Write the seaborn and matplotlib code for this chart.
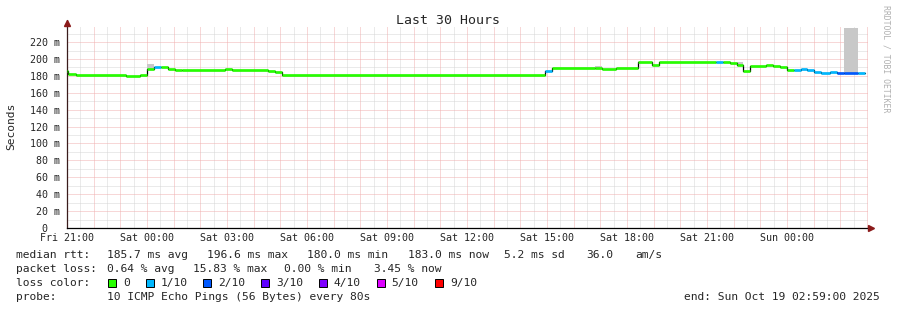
import numpy as np
import pandas as pd
import matplotlib
matplotlib.use("Agg")
import matplotlib.pyplot as plt
import matplotlib.transforms as mtransforms
from matplotlib.patches import Rectangle
import seaborn as sns

# ---------------- data ----------------
# segment boundaries in hours since Fri 21:00 (x axis start)
bounds_h = [0.0, 0.04, 0.34, 2.21, 2.74, 3.0, 3.26, 3.52, 3.79, 4.05, 4.31, 5.93,
            6.19, 7.54, 7.8, 8.06, 17.93, 18.19, 19.8, 20.06, 20.59, 21.41, 21.94,
            22.2, 24.34, 24.6, 24.86, 25.13, 25.35, 25.61, 26.21, 26.48, 26.74, 27.0,
            27.26, 27.53, 27.75, 28.01, 28.28, 28.61, 28.88, 29.14, 29.66, 29.93]
median_ms = [185.5, 182.0, 181.0, 180.0, 181.0, 188.5, 190.0, 190.0, 188.0, 186.5,
             187.0, 188.5, 187.0, 186.0, 184.5, 181.0, 185.5, 189.5, 189.5, 188.5,
             189.5, 196.6, 192.5, 196.0, 196.0, 196.0, 195.3, 193.0, 186.0, 192.0,
             193.0, 192.0, 190.0, 187.5, 187.5, 188.0, 187.5, 184.0, 183.0, 184.0,
             183.0, 183.0, 183.0]
loss_idx = [0, 0, 0, 0, 0, 0, 1, 0, 0, 0, 0, 0, 0, 0, 0, 0, 1, 0, 0, 0, 0, 0, 0,
            0, 1, 0, 0, 0, 0, 0, 0, 0, 0, 0, 1, 1, 1, 1, 1, 1, 2, 2, 1]
smoke_top_ms = [185.5, 182.0, 181.0, 180.0, 181.0, 194.0, 190.0, 190.0, 188.0, 186.5,
                187.0, 188.5, 187.0, 186.0, 184.5, 181.0, 185.5, 189.5, 191.7, 188.5,
                189.5, 196.6, 192.5, 196.0, 196.0, 196.0, 195.3, 196.0, 186.0, 192.0,
                193.0, 192.0, 190.0, 187.5, 187.5, 188.0, 187.5, 184.0, 183.0, 184.0,
                183.0, 236.5, 183.0]

loss_labels = ["0", "1/10", "2/10", "3/10", "4/10", "5/10", "9/10"]
loss_colors = ["#26ff00", "#00b8ff", "#0059ff", "#5e00ff", "#7e00ff", "#dd00ff", "#ff0000"]

x_tick_hours = [0, 3, 6, 9, 12, 15, 18, 21, 24, 27]
x_tick_labels = ["Fri 21:00", "Sat 00:00", "Sat 03:00", "Sat 06:00", "Sat 09:00",
                 "Sat 12:00", "Sat 15:00", "Sat 18:00", "Sat 21:00", "Sun 00:00"]
y_tick_vals = [0, 20, 40, 60, 80, 100, 120, 140, 160, 180, 200, 220]
y_tick_labels = ["0  ", "20 m", "40 m", "60 m", "80 m", "100 m", "120 m", "140 m",
                 "160 m", "180 m", "200 m", "220 m"]

title = "Last 30 Hours"
ylabel = "Seconds"
stats_rtt = [("median rtt:", 16), ("185.7 ms avg", 107.3), ("196.6 ms max", 207.3),
             ("180.0 ms min", 306.7), ("183.0 ms now", 408), ("5.2 ms sd", 504),
             ("36.0", 586), ("am/s", 635)]
stats_loss = [("packet loss:", 16), ("0.64 % avg", 107.3), ("15.83 % max", 193.3),
              ("0.00 % min", 284), ("3.45 % now", 374)]
probe_text = "10 ICMP Echo Pings (56 Bytes) every 80s"
end_text = "end: Sun Oct 19 02:59:00 2025"
watermark = "RRDTOOL / TOBI OETIKER"

# ---------------- style ----------------
sns.set_style("white")
plt.rcParams["font.family"] = ["DejaVu Sans Mono", "DejaVu Sans"]

W, H = 897, 310
fig = plt.figure(figsize=(W / 100, H / 100), dpi=100)
fig.patch.set_facecolor("white")

ax_l, ax_r, ax_t, ax_b = 67, 868, 26, 228
ax = fig.add_axes([ax_l / W, 1 - ax_b / H, (ax_r - ax_l) / W, (ax_b - ax_t) / H])
ymax = 239.0
xmax = (ax_r - ax_l) / 26.667
ax.set_xlim(0, xmax)
ax.set_ylim(0, ymax)

# grid
minor_c, major_c = "#d6d6d6", "#f0b0b0"
gkw = dict(lw=0.72, ls=(0, (1, 1)))
for h in np.arange(0.5, xmax, 1.0):
    ax.axvline(h, color=minor_c, zorder=0, **gkw)
for h in np.arange(1.0, xmax, 1.0):
    ax.axvline(h, color=major_c, zorder=0.5, **gkw)
for v in np.arange(10, ymax, 20):
    ax.axhline(v, color=minor_c, zorder=0, **gkw)
for v in np.arange(20, ymax, 20):
    ax.axhline(v, color=major_c, zorder=0.5, **gkw)

b = np.array(bounds_h)
med = np.array(median_ms)
smk = np.array(smoke_top_ms)

# smoke
has = smk > med + 0.01
ax.bar(b[:-1][has], (smk - med)[has] + 0.5, bottom=med[has] - 0.5,
       width=(b[1:] - b[:-1])[has], align="edge", color="#c8c8c8", lw=0, zorder=2)

# black median step line
df = pd.DataFrame({"h": b, "ms": list(med) + [med[-1]]})
sns.lineplot(data=df, x="h", y="ms", drawstyle="steps-post", color="black",
             lw=0.9, estimator=None, ax=ax, zorder=3)
# coloured loss segments
ax.hlines(med, b[:-1], b[1:], colors=[loss_colors[i] for i in loss_idx],
          lw=1.9, zorder=4)

# axes
for s in ["top", "right"]:
    ax.spines[s].set_visible(False)
ax.spines["left"].set_color("#3a1c1c")
ax.spines["bottom"].set_color("black")
ax.spines["left"].set_linewidth(0.9)
ax.spines["bottom"].set_linewidth(0.9)
ax.set_xlabel("")
ax.set_ylabel("")

ax.set_xticks(x_tick_hours)
ax.set_xticklabels(x_tick_labels, fontsize=7.2)
ax.set_xticks(np.arange(1, xmax, 1.0), minor=True)
ax.tick_params(axis="x", which="both", direction="inout", length=3, width=0.7,
               color="#e06060", pad=2)
ax.set_yticks(y_tick_vals)
ax.set_yticklabels(y_tick_labels, fontsize=7.2)
ax.tick_params(axis="y", length=0, pad=5)

# arrows
tr_top = mtransforms.offset_copy(ax.transAxes, fig=fig, x=0, y=3, units="dots")
ax.plot([0], [1], marker="^", ms=4, color="#8b1a1a", transform=tr_top, clip_on=False, zorder=6)
tr_right = mtransforms.offset_copy(ax.transAxes, fig=fig, x=3, y=0, units="dots")
ax.plot([1], [0], marker=">", ms=4, color="#8b1a1a", transform=tr_right, clip_on=False, zorder=6)
ax.plot([0, 0], [1, 1.03], color="#3a1c1c", lw=0.9, transform=ax.transAxes, clip_on=False)

# titles and labels
fig.text(447.5 / W, 1 - 24 / H, title, ha="center", va="baseline", fontsize=9.5)
fig.text(11 / W, 1 - 126 / H, ylabel, ha="center", va="center", rotation=90, fontsize=8.1)
fig.text(886 / W, 1 - 5 / H, watermark, ha="center", va="top", rotation=270,
         fontsize=5.9, color="#b0b0b0")

fs = 8.1
def px(x, y):
    return x / W, 1 - y / H

for txt, x in stats_rtt:
    fig.text(*px(x, 258.3), txt, fontsize=fs, va="baseline", ha="left")
for txt, x in stats_loss:
    fig.text(*px(x, 272.3), txt, fontsize=fs, va="baseline", ha="left")
fig.text(*px(16, 286.3), "loss color:", fontsize=fs, va="baseline", ha="left")
box_x = [108.3, 145.7, 203.3, 261.0, 318.7, 376.7, 435.0]
for bx, lab, col in zip(box_x, loss_labels, loss_colors):
    fig.patches.append(Rectangle(px(bx, 286.5), 8 / W, 8 / H, transform=fig.transFigure,
                                 facecolor=col, edgecolor="black", lw=0.7))
    fig.text(*px(bx + 15, 286.3), lab, fontsize=fs, va="baseline", ha="left")
fig.text(*px(16, 300.3), "probe:", fontsize=fs, va="baseline", ha="left")
fig.text(*px(107.3, 300.3), probe_text, fontsize=fs, va="baseline", ha="left")
fig.text(*px(880, 300.3), end_text, fontsize=fs, va="baseline", ha="right")

fig.savefig("out.png", dpi=100, facecolor="white")
